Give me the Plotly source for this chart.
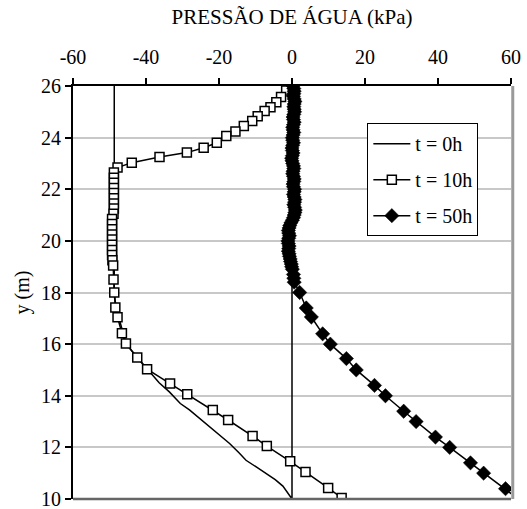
import plotly.graph_objects as go

# Pore-water pressure profiles (kPa) versus elevation y (m)

# t = 0h : initial profile
t0_pressure = [-48.7, -48.7, -48.7, -48.2, -47.4, -46.2, -45.4, -42.5, -39.5, -36.4,
               -33.6, -30.6, -28.1, -22.6, -19.9, -17.1, -14.6, -12.6, -9.9, -7.1,
               -4.6, -2.5, 0.0, 0.0]
t0_y = [26.0, 19.0, 18.0, 17.4, 17.0, 16.4, 16.0, 15.5, 15.0, 14.5,
        14.15, 13.7, 13.45, 12.8, 12.45, 12.15, 11.8, 11.5, 11.25, 11.0,
        10.75, 10.5, 10.0, 26.0]

# t = 10h
t10_pressure = [0.0, -1.6, -3.0, -4.3, -5.9, -7.5, -9.4, -10.9, -13.2, -15.5,
                -18.0, -20.6, -24.2, -28.8, -36.3, -43.9, -47.8,
                -48.8, -48.8, -48.8, -48.8, -48.8, -48.8, -48.8, -48.8, -48.9,
                -49.3, -49.3, -49.3, -49.3, -49.3, -49.3, -49.3, -49.3, -49.2, -49.0,
                -48.9, -48.7, -48.4, -47.8, -46.6, -45.5, -42.4, -39.7, -33.4, -28.7,
                -21.7, -17.5, -10.8, -6.9, -0.5, 3.7, 9.9, 13.6]
t10_y = [26.0, 25.83, 25.57, 25.37, 25.18, 25.03, 24.83, 24.64, 24.45, 24.24,
         24.06, 23.80, 23.61, 23.42, 23.25, 23.03, 22.84,
         22.65, 22.45, 22.25, 22.05, 21.85, 21.65, 21.45, 21.25, 21.05,
         20.85, 20.65, 20.45, 20.25, 20.05, 19.85, 19.65, 19.45, 19.25, 19.05,
         18.5, 18.0, 17.42, 17.04, 16.42, 16.02, 15.48, 15.03, 14.47, 14.06,
         13.45, 13.06, 12.44, 12.05, 11.46, 11.05, 10.43, 10.04]

# t = 50h
t50_pressure = [0.3, 0.5, 0.6, 0.5, 0.4, 0.6, 0.8, 0.6, 0.5, 0.6,
                0.7, 0.5, 0.3, 0.4, 0.6, 0.4, 0.2, 0.3, 0.5, 0.3,
                0.1, 0.2, 0.4, 0.2, 0.0, 0.1, 0.3, 0.1, -0.1, 0.0,
                0.2, 0.4, 0.5, 0.3, 0.2, 0.4, 0.6, 0.5, 0.3, 0.4,
                0.7, 0.6, 0.4, 0.6, 0.8, 0.7, 0.5, 0.7, 0.9, 0.8,
                0.6, 0.4, 0.1, -0.3, -0.6, -0.8, -1.0, -0.9, -0.7, -0.9,
                -1.1, -1.0, -0.8, -0.9, -1.0, -0.8, -0.7, -0.5, -0.4, -0.2,
                -0.1, 0.1, 0.4, 0.5, 0.6,
                2.1, 3.9, 5.3, 8.4, 10.5, 14.9, 17.6, 22.6, 25.6, 30.6,
                34.0, 39.3, 43.2, 48.9, 52.5, 58.5, 62.0]
t50_y = [26.0, 25.9, 25.8, 25.7, 25.6, 25.5, 25.4, 25.3, 25.2, 25.1,
         25.0, 24.9, 24.8, 24.7, 24.6, 24.5, 24.4, 24.3, 24.2, 24.1,
         24.0, 23.9, 23.8, 23.7, 23.6, 23.5, 23.4, 23.3, 23.2, 23.1,
         23.0, 22.9, 22.8, 22.7, 22.6, 22.5, 22.4, 22.3, 22.2, 22.1,
         22.0, 21.9, 21.8, 21.7, 21.6, 21.5, 21.4, 21.3, 21.2, 21.1,
         21.0, 20.9, 20.8, 20.7, 20.6, 20.5, 20.4, 20.3, 20.2, 20.1,
         20.0, 19.9, 19.8, 19.7, 19.6, 19.5, 19.4, 19.3, 19.2, 19.1,
         19.0, 18.9, 18.7, 18.55, 18.4,
         18.0, 17.4, 17.05, 16.4, 16.0, 15.44, 15.0, 14.4, 14.0, 13.4,
         13.0, 12.4, 12.0, 11.4, 11.0, 10.4, 10.0]

x_ticks = [-60, -40, -20, 0, 20, 40, 60]
x_tick_labels = ["-60", "-40", "-20", "0", "20", "40", "60"]
y_ticks = [10, 12, 14, 16, 18, 20, 22, 24, 26]

FONT = "Liberation Serif"

fig = go.Figure()

fig.add_trace(go.Scatter(
    x=t0_pressure, y=t0_y, mode="lines", name="t = 0h",
    line=dict(color="black", width=1.5), legendgroup="a",
))
fig.add_trace(go.Scatter(
    x=t10_pressure, y=t10_y, mode="lines+markers", name="t = 10h",
    line=dict(color="black", width=1.5),
    marker=dict(symbol="square", size=9, color="white",
                line=dict(color="black", width=1.5)),
    legendgroup="b",
))
fig.add_trace(go.Scatter(
    x=t50_pressure, y=t50_y, mode="lines+markers", name="t = 50h",
    line=dict(color="black", width=1.5),
    marker=dict(symbol="diamond", size=11, color="black",
                line=dict(color="black", width=0.5)),
    legendgroup="c",
))

# plot-area frame: dark bottom edge and grey right edge
fig.add_shape(type="line", xref="paper", yref="paper", x0=0, x1=1, y0=0, y1=0,
              line=dict(color="#666666", width=2.5))
fig.add_shape(type="line", xref="paper", yref="paper", x0=1.004, x1=1.004, y0=0, y1=1,
              line=dict(color="#9a9a9a", width=3))

fig.update_layout(
    width=527, height=509,
    margin=dict(l=73, r=16, t=86, b=10),
    paper_bgcolor="white", plot_bgcolor="white",
    font=dict(family=FONT, size=20, color="black"),
    showlegend=True,
    legend=dict(
        x=0.672, y=0.91, xanchor="left", yanchor="top",
        bgcolor="white", bordercolor="black", borderwidth=1,
        font=dict(family=FONT, size=20),
        traceorder="grouped", tracegroupgap=7, itemwidth=37,
    ),
    xaxis=dict(
        side="top", range=[-60, 60], automargin=False,
        tickvals=x_ticks, ticktext=x_tick_labels,
        ticks="outside", ticklen=6, tickcolor="black", tickwidth=1.5,
        ticklabelstandoff=6, ticklabeloverflow="allow",
        showline=True, linecolor="black", linewidth=2,
        showgrid=False, zeroline=False,
        title=dict(text="PRESSÃO DE ÁGUA (kPa)", font=dict(family=FONT, size=21), standoff=16),
        tickfont=dict(family=FONT, size=20),
    ),
    yaxis=dict(
        range=[10, 26], tickvals=y_ticks, automargin=False,
        ticks="outside", ticklen=6, tickcolor="black", tickwidth=1.5,
        ticklabeloverflow="allow",
        showline=True, linecolor="black", linewidth=2,
        showgrid=True, gridcolor="#c8c8c8", gridwidth=1.5,
        zeroline=False,
        title=dict(text="y (m)", font=dict(family=FONT, size=20), standoff=6),
        tickfont=dict(family=FONT, size=20),
    ),
)

fig.write_html("out.html")
